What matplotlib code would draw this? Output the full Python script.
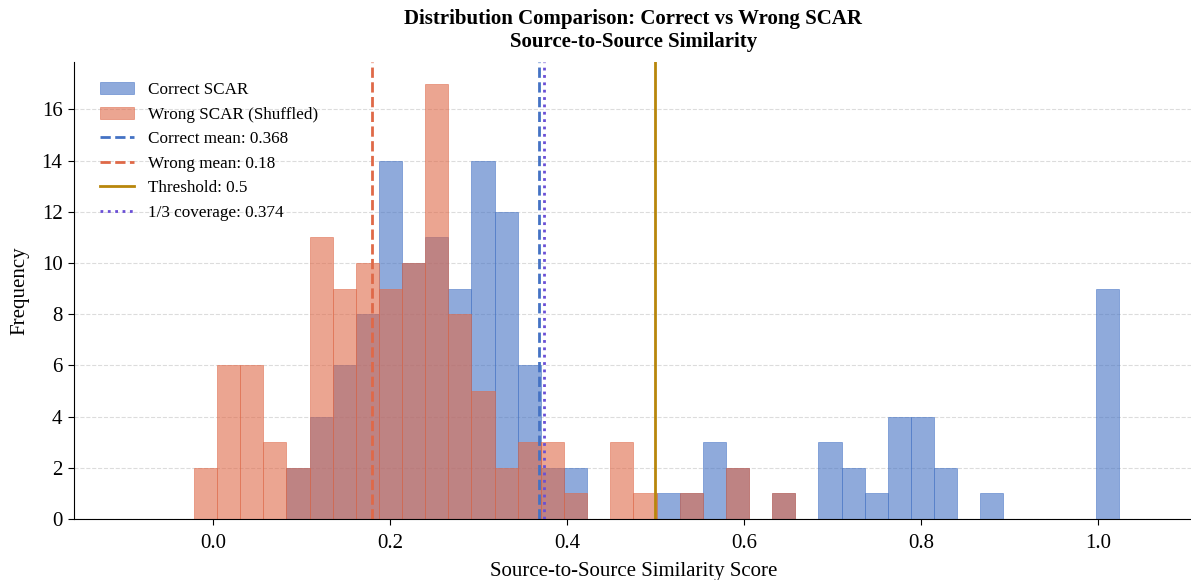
import numpy as np
import matplotlib
matplotlib.use("Agg")
import matplotlib.pyplot as plt

plt.rcParams['font.family'] = ['Liberation Serif', 'DejaVu Serif']

# Histogram bin range and count (shared by both series)
bin_lo, bin_hi, n_bins = -0.1, 1.05, 44

# Counts per bin (bin index 0..43)
correct_counts = [0, 0, 0, 0, 0, 0, 0, 2, 4, 6, 8, 14, 10, 11, 9, 14, 12, 6, 2, 2,
                  0, 0, 0, 1, 1, 3, 2, 0, 1, 0, 3, 2, 1, 4, 4, 2, 0, 1, 0, 0,
                  0, 0, 9, 0]
wrong_counts = [0, 0, 0, 2, 6, 6, 3, 2, 11, 9, 10, 9, 10, 17, 8, 5, 2, 3, 3, 1,
                0, 3, 1, 0, 1, 0, 2, 0, 1, 0, 0, 0, 0, 0, 0, 0, 0, 0, 0, 0,
                0, 0, 0, 0]

correct_mean = 0.368
wrong_mean = 0.18
threshold = 0.5
coverage = 0.374

edges = np.linspace(bin_lo, bin_hi, n_bins + 1)
centers = (edges[:-1] + edges[1:]) / 2

blue = '#4472C4'
red = '#DF6948'

fig = plt.figure(figsize=(11.91, 5.8), dpi=100)
ax = fig.add_axes([0.0618, 0.105, 0.940, 0.788])

ax.hist(centers, bins=edges, weights=correct_counts, color=blue, alpha=0.6,
        edgecolor=blue, linewidth=0.6, label='Correct SCAR')
ax.hist(centers, bins=edges, weights=wrong_counts, color=red, alpha=0.6,
        edgecolor=red, linewidth=0.6, label='Wrong SCAR (Shuffled)')

ax.axvline(correct_mean, color=blue, linestyle='--', linewidth=2,
           label=f'Correct mean: {correct_mean}')
ax.axvline(wrong_mean, color=red, linestyle='--', linewidth=2,
           label=f'Wrong mean: {wrong_mean}')
ax.axvline(threshold, color='#B8860B', linestyle='-', linewidth=2,
           label=f'Threshold: {threshold}')
ax.axvline(coverage, color='#6A4FD6', linestyle=':', linewidth=2,
           label=f'1/3 coverage: {coverage}')

ax.set_xlabel('Source-to-Source Similarity Score', fontsize=15, labelpad=6.5)
ax.set_ylabel('Frequency', fontsize=15, labelpad=9)
ax.set_title('Distribution Comparison: Correct vs Wrong SCAR\nSource-to-Source Similarity',
             fontsize=15, fontweight='bold', pad=11)
ax.tick_params(labelsize=15, length=4.5)
ax.tick_params(axis='x', pad=6.5)
ax.grid(axis='y', linestyle='--', alpha=0.5, color='#bbbbbb')
ax.set_axisbelow(True)
ax.spines['top'].set_visible(False)
ax.spines['right'].set_visible(False)

ax.legend(loc='upper left', frameon=False, fontsize=12.3, bbox_to_anchor=(0.01, 0.99))

fig.savefig('out.png', dpi=100)
